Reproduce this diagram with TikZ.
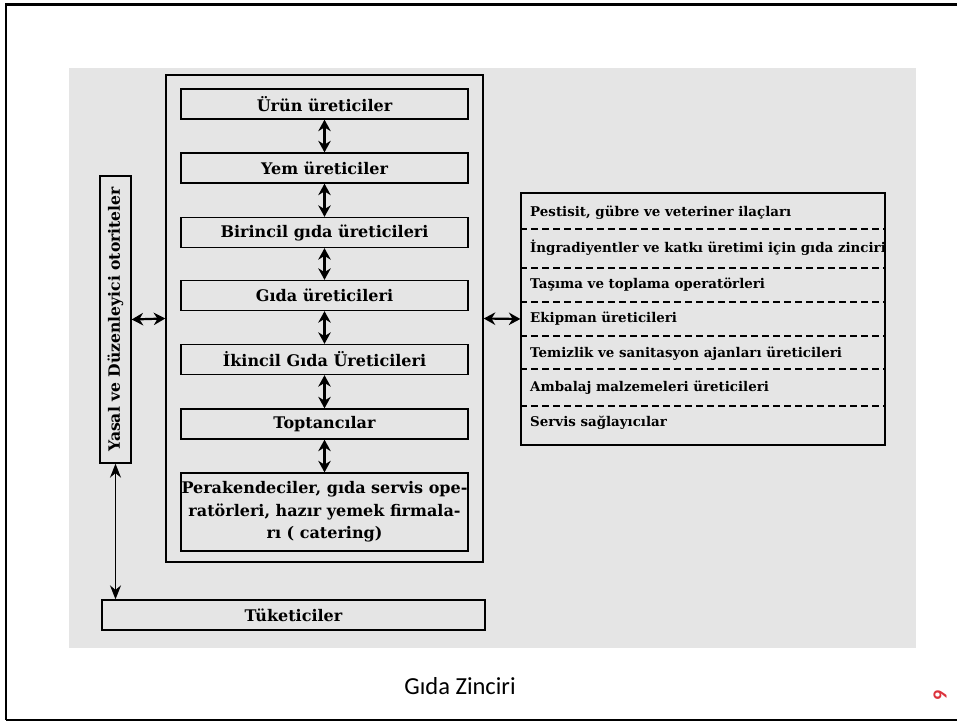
\documentclass[tikz,border=0pt]{standalone}
\usepackage{fontspec}
\setmainfont{DejaVu Serif}
\newfontfamily\capfont{Carlito}
\usetikzlibrary{arrows.meta}
\definecolor{bggray}{RGB}{229,229,229}
\definecolor{pagered}{RGB}{220,50,60}
\begin{document}
\begin{tikzpicture}[x=1pt,y=-1pt,
  chainbox/.style={draw, line width=1.3pt, minimum width=287pt, minimum height=30pt, inner sep=0pt, font=\bfseries\fontsize{16}{19}\selectfont},
  plainbox/.style={draw, line width=1.3pt, inner sep=0pt},
  dblarrow/.style={{Stealth[length=11.5pt,width=12.5pt]}-{Stealth[length=11.5pt,width=12.5pt]}, line width=2.2pt},
  thinarrow/.style={{Stealth[length=14pt,width=11pt]}-{Stealth[length=14pt,width=11pt]}, line width=1.6pt},
  rowtext/.style={anchor=west, inner sep=0pt, font=\bfseries\fontsize{13.4}{16}\selectfont},
  sepline/.style={dashed, dash pattern=on 7pt off 4pt, line width=1.1pt}
]
\useasboundingbox (0,0) rectangle (957,722);
% slide frame
\draw[line width=2.6pt] (957,4.3) -- (6,4.3) -- (6,720);
\draw[line width=1.6pt] (6,720) -- (957,720);
% grey panel
\fill[bggray] (69,68) rectangle (916,648);

% outer frame of chain
\node[plainbox, line width=1.5pt, minimum width=317pt, minimum height=487pt] (outer) at (324.5,318.5) {};

% chain boxes
\node[chainbox] (b1) at (324.5,104) {Ürün üreticiler};
\node[chainbox] (b2) at (324.5,168) {Yem üreticiler};
\node[chainbox] (b3) at (324.5,232.5) {Birincil gıda üreticileri};
\node[chainbox] (b4) at (324.5,295.5) {Gıda üreticileri};
\node[chainbox] (b5) at (324.5,359.5) {İkincil Gıda Üreticileri};
\node[chainbox] (b6) at (324.5,424) {Toptancılar};
\node[chainbox, minimum height=78pt, align=center, font=\bfseries\fontsize{16}{22.5}\selectfont] (b7) at (324.5,512)
  {Perakendeciler, gıda servis ope-\\ratörleri, hazır yemek firmala-\\rı ( catering)};

\draw[dblarrow] (b1.south) -- (b2.north);
\draw[dblarrow] (b2.south) -- (b3.north);
\draw[dblarrow] (b3.south) -- (b4.north);
\draw[dblarrow] (b4.south) -- (b5.north);
\draw[dblarrow] (b5.south) -- (b6.north);
\draw[dblarrow] (b6.south) -- (b7.north);

% regulators
\node[plainbox, minimum width=31pt, minimum height=287pt] (yasal) at (115.5,319.5) {};
\node[rotate=90, inner sep=0pt, font=\bfseries\fontsize{15.6}{18}\selectfont] (yasaltext) at (yasal.center) {Yasal ve Düzenleyici otoriteler};

% consumers
\node[plainbox, minimum width=383pt, minimum height=30pt, font=\bfseries\fontsize{16}{19}\selectfont] (tuk) at (293.5,615) {Tüketiciler};

\draw[dblarrow] (yasal.east) -- (outer.west);
\draw[thinarrow] (yasal.south) -- (yasal.south |- tuk.north);

% right side box
\node[plainbox, minimum width=364pt, minimum height=252pt] (rbox) at (703,319) {};
\node[rowtext] (r1) at (530,213) {Pestisit, gübre ve veteriner ilaçları};
\node[rowtext] (r2) at (530,248) {İngradiyentler ve katkı üretimi için gıda zinciri};
\node[rowtext] (r3) at (530,285) {Taşıma ve toplama operatörleri};
\node[rowtext] (r4) at (530,319) {Ekipman üreticileri};
\node[rowtext] (r5) at (530,354) {Temizlik ve sanitasyon ajanları üreticileri};
\node[rowtext] (r6) at (530,388) {Ambalaj malzemeleri üreticileri};
\node[rowtext] (r7) at (530,423) {Servis sağlayıcılar};
\foreach \yy in {229,268,302,336,369,406}
  \draw[sepline] (rbox.west |- 0,\yy) -- (rbox.east |- 0,\yy);

\draw[dblarrow] (outer.east) -- (rbox.west);

% caption and page number
\node[font=\capfont\fontsize{24.5}{28}\selectfont] (caption) at (460,686) {Gıda Zinciri};
\node[rotate=90, text=pagered, font=\capfont\bfseries\fontsize{20}{22}\selectfont] (pagenum) at (940,695) {9};
\end{tikzpicture}
\end{document}
